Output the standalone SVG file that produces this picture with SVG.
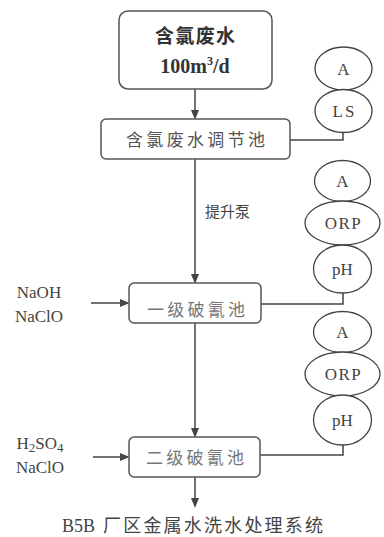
<svg xmlns="http://www.w3.org/2000/svg" width="384" height="537" viewBox="0 0 384 537">
<defs>
<marker id="ah" markerWidth="10" markerHeight="12" refX="10" refY="5" orient="auto" markerUnits="userSpaceOnUse" viewBox="0 0 12 10">
<path d="M0,0 L12,5 L0,10 Z" fill="#444"/>
</marker>
</defs>
<style>
.box{fill:#fff;stroke:#555;stroke-width:1.5}
.ell{fill:#fff;stroke:#444;stroke-width:1.3}
.ln{fill:none;stroke:#444;stroke-width:1.5}
.cjk{font-family:"Noto Sans CJK SC",sans-serif;text-anchor:middle}
.ser{font-family:"Liberation Serif","Noto Sans CJK SC",serif;text-anchor:middle;fill:#333}
.lab{font-family:"Liberation Serif",serif;text-anchor:middle;fill:#444;font-size:17px}
</style>
<rect width="384" height="537" fill="#fff"/>
<g id="connectors">
<line class="ln" x1="195" y1="89" x2="195" y2="118" marker-end="url(#ah)"/>
<line class="ln" x1="195" y1="159" x2="195" y2="282" marker-end="url(#ah)"/>
<line class="ln" x1="195" y1="323" x2="195" y2="436" marker-end="url(#ah)"/>
<line class="ln" x1="195" y1="477" x2="195" y2="506" marker-end="url(#ah)"/>
<line class="ln" x1="91" y1="303" x2="128" y2="303" marker-end="url(#ah)"/>
<line class="ln" x1="93" y1="457" x2="128" y2="457" marker-end="url(#ah)"/>
<polyline class="ln" points="290,140 343,140 343,132"/>
<polyline class="ln" points="261,304 343,304 343,293"/>
<polyline class="ln" points="260,455 343,455 343,445"/>
</g>
<g id="source">
<rect class="box" x="119" y="11" width="153" height="78" rx="9"/>
<text class="cjk" x="195" y="43" font-size="19" font-weight="bold" fill="#333" textLength="80" lengthAdjust="spacing">含氯废水</text>
<text class="ser" x="195" y="73" font-size="20" font-weight="bold">100m<tspan font-size="12" dy="-8">3</tspan><tspan dy="8">/d</tspan></text>
</g>
<g id="tank1">
<rect class="box" x="101" y="119" width="189" height="40" rx="5"/>
<text class="cjk" x="195.5" y="146" font-size="17" fill="#555" textLength="139" lengthAdjust="spacing">含氯废水调节池</text>
</g>
<g id="tank2">
<rect class="box" x="129" y="283" width="132" height="40" rx="5"/>
<text class="cjk" x="196" y="316" font-size="17" fill="#777" textLength="98" lengthAdjust="spacing">一级破氰池</text>
</g>
<g id="tank3">
<rect class="box" x="129" y="437" width="131" height="40" rx="5"/>
<text class="cjk" x="195" y="464" font-size="17" fill="#777" textLength="98" lengthAdjust="spacing">二级破氰池</text>
</g>
<g id="pump-label">
<text x="205" y="217" font-family="Noto Sans CJK SC, sans-serif" font-size="15" fill="#444">提升泵</text>
</g>
<g id="dose1">
<text class="lab" x="39" y="298" font-size="19">NaOH</text>
<text class="lab" x="39" y="322" font-size="19">NaClO</text>
</g>
<g id="dose2">
<text class="lab" x="40" y="449" font-size="19">H<tspan font-size="13" dy="3">2</tspan><tspan dy="-3">SO</tspan><tspan font-size="13" dy="3">4</tspan></text>
<text class="lab" x="40" y="473" font-size="19">NaClO</text>
</g>
<g id="inst1">
<ellipse class="ell" cx="343.5" cy="68.5" rx="28.5" ry="21.5"/>
<text class="lab" x="343.5" y="75" font-size="17">A</text>
<ellipse class="ell" cx="343.5" cy="111" rx="28.5" ry="21.5"/>
<text class="lab" x="344.5" y="117" font-size="17" letter-spacing="2">LS</text>
</g>
<g id="inst2">
<ellipse class="ell" cx="342.5" cy="181" rx="28" ry="20.5"/>
<text class="lab" x="342.5" y="187" font-size="17">A</text>
<ellipse class="ell" cx="342.5" cy="223" rx="37.5" ry="22"/>
<text class="lab" x="343.5" y="229" font-size="17" letter-spacing="1.5">ORP</text>
<ellipse class="ell" cx="342.5" cy="269" rx="29" ry="24"/>
<text class="lab" x="342.5" y="275" font-size="17">pH</text>
</g>
<g id="inst3">
<ellipse class="ell" cx="342.5" cy="332" rx="29" ry="20.5"/>
<text class="lab" x="342.5" y="338" font-size="17">A</text>
<ellipse class="ell" cx="342.5" cy="374" rx="37.5" ry="22"/>
<text class="lab" x="343.5" y="380" font-size="17" letter-spacing="1.5">ORP</text>
<ellipse class="ell" cx="342.5" cy="420" rx="29" ry="25"/>
<text class="lab" x="342.5" y="426" font-size="17">pH</text>
</g>
<g id="output">
<text x="62" y="532" font-family="Liberation Serif, serif" font-size="18" fill="#444">B5B <tspan x="103" font-family="Noto Sans CJK SC, sans-serif" font-size="18" letter-spacing="2.2">厂区金属水洗水处理系统</tspan></text>
</g>
</svg>
